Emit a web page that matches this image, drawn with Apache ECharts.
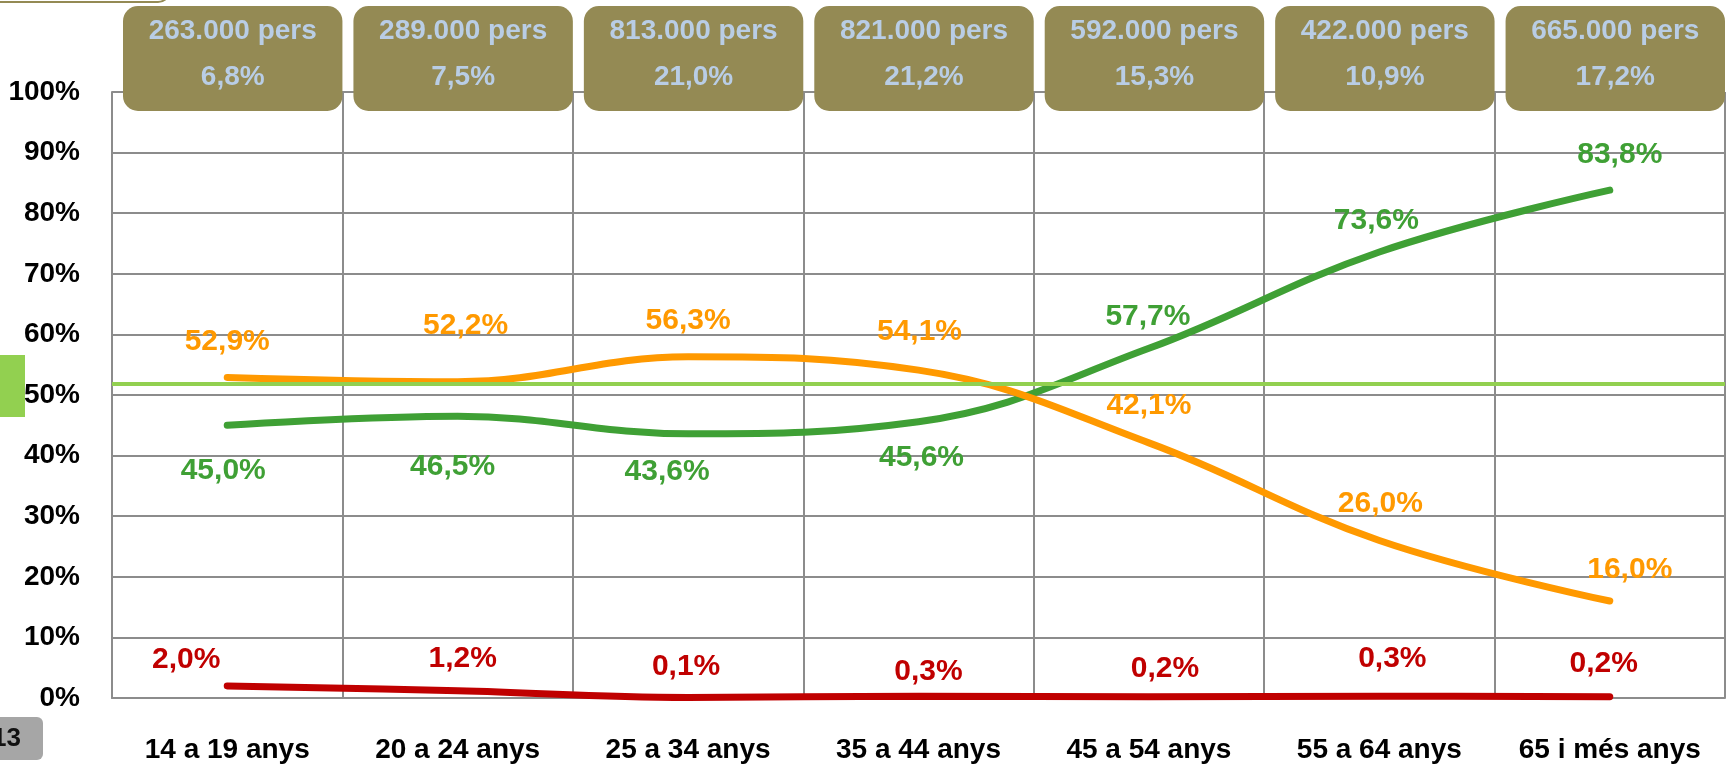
<!DOCTYPE html>
<html>
<head>
<meta charset="utf-8">
<script src="https://cdn.jsdelivr.net/npm/echarts@6/dist/echarts.min.js"></script>
<style>
  html, body { margin: 0; padding: 0; background: #fff; }
  #main { width: 1729px; height: 770px; }
</style>
</head>
<body>
<div id="main"></div>
<script>
// categories (age groups)
const ages = ['14 a 19 anys', '20 a 24 anys', '25 a 34 anys', '35 a 44 anys', '45 a 54 anys', '55 a 64 anys', '65 i més anys']
// header boxes
const headPeople = ['263.000 pers', '289.000 pers', '813.000 pers', '821.000 pers', '592.000 pers', '422.000 pers', '665.000 pers']
const headShare = ['6,8%', '7,5%', '21,0%', '21,2%', '15,3%', '10,9%', '17,2%']
// series values (%)
const greenVals = [45.0, 46.5, 43.6, 45.6, 57.7, 73.6, 83.8]
const orangeVals = [52.9, 52.2, 56.3, 54.1, 42.1, 26.0, 16.0]
const redVals = [2.0, 1.2, 0.1, 0.3, 0.2, 0.3, 0.2]
// reference level
const refLevel = 51.8
// y ticks
const yMin = 0, yMax = 100, yStep = 10

// label offsets (px, from point) - layout only
const greenOff = [[-4, 45], [-5, 51], [-21, 38], [3, 36], [-1, -32], [-3, -31], [10, -35]]
const orangeOff = [[0, -36], [8, -56], [0, -36], [1, -38], [0, -37], [1, -37], [20, -31]]
const redOff = [[-41, -26], [5, -32], [-2, -31], [10, -24], [16, -28], [13, -37], [-6, -33]]

const FONT = "'Liberation Sans', Arial, sans-serif"
const fmt = v => v.toFixed(1).replace('.', ',') + '%'

const lineSeries = (name, vals, offs, color) => ({
  name: name,
  type: 'line',
  smooth: 0.4,
  symbol: 'circle',
  symbolSize: 1,
  itemStyle: { color: color },
  lineStyle: { color: color, width: 7, cap: 'round' },
  data: vals.map((v, i) => ({
    value: v,
    label: { offset: offs[i] }
  })),
  label: {
    show: true,
    position: 'inside',
    formatter: p => fmt(p.value),
    color: color,
    fontFamily: FONT,
    fontWeight: 'bold',
    fontSize: 30
  }
})

const chart = echarts.init(document.getElementById('main'))
const gridColor = '#8c8c8c'

const option = {
  animation: false,
  grid: { left: 112, right: 4, top: 92, bottom: 72, outerBoundsMode: 'none' },
  xAxis: {
    type: 'category',
    data: ages,
    boundaryGap: true,
    axisLine: { show: true, lineStyle: { color: gridColor, width: 2 } },
    axisTick: { show: false },
    splitLine: { show: true, interval: 0, lineStyle: { color: gridColor, width: 2 } },
    axisLabel: { interval: 0, color: '#000', fontFamily: FONT, fontWeight: 'bold', fontSize: 28, margin: 38 }
  },
  yAxis: {
    type: 'value',
    min: yMin,
    max: yMax,
    interval: yStep,
    axisLine: { show: true, lineStyle: { color: gridColor, width: 2 } },
    axisTick: { show: false },
    splitLine: { show: true, lineStyle: { color: gridColor, width: 2 } },
    axisLabel: { formatter: '{value}%', color: '#000', fontFamily: FONT, fontWeight: 'bold', fontSize: 28, margin: 32 }
  },
  series: [
    lineSeries('verd', greenVals, greenOff, '#3FA035'),
    Object.assign(lineSeries('taronja', orangeVals, orangeOff, '#FF9900'), {
      markLine: {
        silent: true,
        symbol: 'none',
        label: { show: false },
        lineStyle: { color: '#92D050', width: 4, type: 'solid' },
        data: [{ yAxis: refLevel }]
      }
    }),
    lineSeries('vermell', redVals, redOff, '#C00000'),
    {
      // header boxes above each column
      type: 'custom',
      clip: false,
      z: 5,
      data: ages.map((a, i) => [i, yMax]),
      renderItem: (params, api) => {
        const i = api.value(0)
        const c = api.coord([i, api.value(1)])
        const bw = api.size([1, 0])[0]
        const x0 = c[0] - bw / 2 + 11
        const w = bw - 11
        const y0 = c[1] - 86
        const txt = (t, y) => ({
          type: 'text',
          x: x0 + w / 2,
          y: y,
          style: {
            text: t, fill: '#B9CDE5', fontFamily: FONT, fontWeight: 'bold', fontSize: 28,
            align: 'center', verticalAlign: 'middle'
          }
        })
        return {
          type: 'group',
          children: [
            { type: 'rect', shape: { x: x0, y: y0, width: w, height: 105, r: 15 }, style: { fill: '#948A54' } },
            txt(headPeople[i], y0 + 25),
            txt(headShare[i], y0 + 71)
          ]
        }
      }
    }
  ],
  graphic: [
    { type: 'rect', shape: { x: -20, y: -40, width: 190, height: 42, r: 12 }, style: { fill: '#fff', stroke: '#948A54', lineWidth: 2 } },
    { type: 'rect', shape: { x: 0, y: 355, width: 25, height: 62 }, style: { fill: '#92D050' } },
    { type: 'rect', shape: { x: -10, y: 717, width: 53, height: 43, r: 6 }, style: { fill: '#A6A6A6' } },
    { type: 'text', x: 21, y: 739, style: { text: '13', fill: '#111', fontFamily: FONT, fontWeight: 'bold', fontSize: 26, align: 'right', verticalAlign: 'middle' } }
  ]
}

chart.setOption(option)
</script>
</body>
</html>
